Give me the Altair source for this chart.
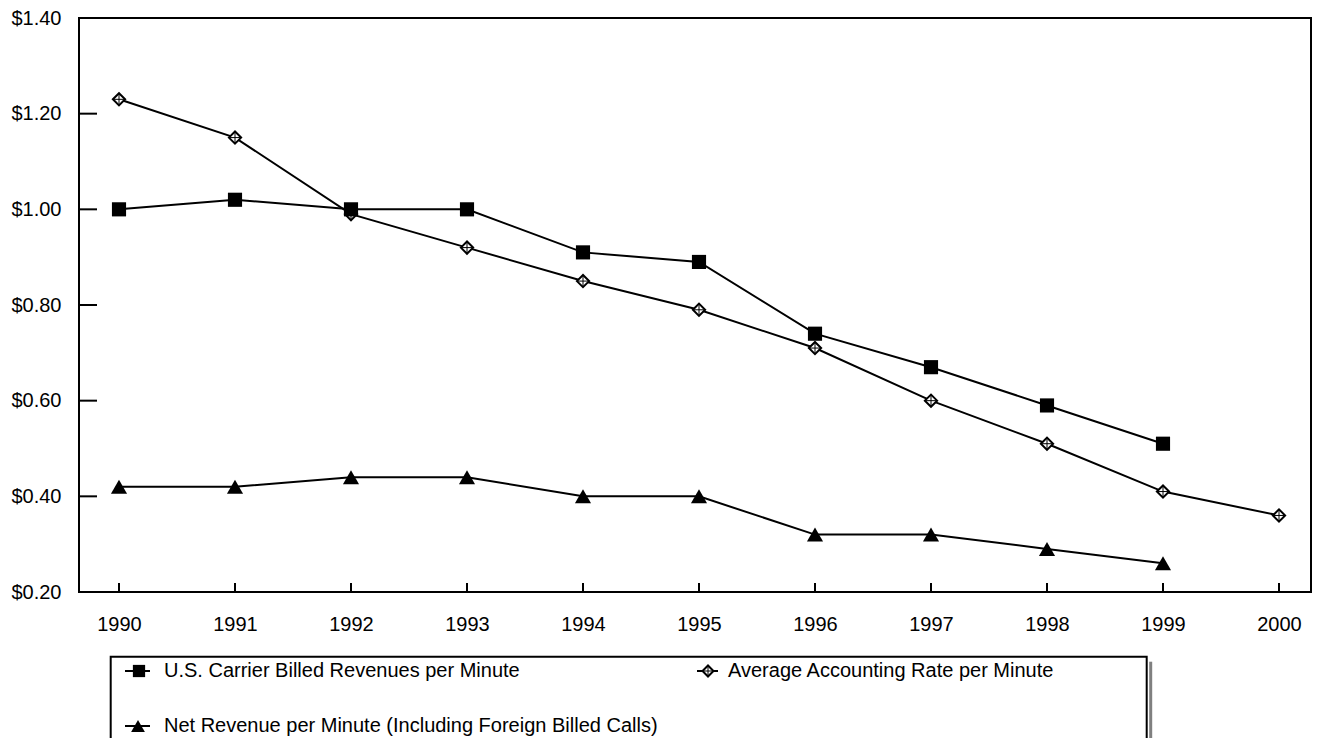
import altair as alt
import pandas as pd

years = [1990, 1991, 1992, 1993, 1994, 1995, 1996, 1997, 1998, 1999, 2000]
years_us = years[:10]
us_billed = [1.00, 1.02, 1.00, 1.00, 0.91, 0.89, 0.74, 0.67, 0.59, 0.51]
acct_rate = [1.23, 1.15, 0.99, 0.92, 0.85, 0.79, 0.71, 0.60, 0.51, 0.41, 0.36]
net_rev = [0.42, 0.42, 0.44, 0.44, 0.40, 0.40, 0.32, 0.32, 0.29, 0.26]
y_ticks = [0.2, 0.4, 0.6, 0.8, 1.0, 1.2, 1.4]
series_names = [
    "U.S. Carrier Billed Revenues per Minute",
    "Average Accounting Rate per Minute",
    "Net Revenue per Minute (Including Foreign Billed Calls)",
]

FONT = "Liberation Sans"
W, H = 1232, 574
TOP = 10

df_us = pd.DataFrame({"year": years_us, "value": us_billed})
df_acct = pd.DataFrame({"year": years, "value": acct_rate})
df_net = pd.DataFrame({"year": years_us, "value": net_rev})
df_yt = pd.DataFrame({"value": y_ticks})
df_xt = pd.DataFrame({"year": years})
one = pd.DataFrame({"k": [0]})

xenc = alt.X(
    "year:Q",
    scale=alt.Scale(domain=[1990 - 40 / 116, 2000 + 32 / 116], nice=False, zero=False),
    axis=alt.Axis(values=years, format="d", title=None, domain=False, ticks=False,
                  grid=False, labelPadding=22, labelFlush=False),
)
yenc = alt.Y(
    "value:Q",
    scale=alt.Scale(domain=[0.2, 1.4], nice=False, zero=False),
    axis=alt.Axis(values=y_ticks, format="$.2f", title=None, domain=False, ticks=False,
                  grid=False, labelPadding=18),
)

def line(df):
    return alt.Chart(df).mark_line(color="black", strokeWidth=2).encode(x=xenc, y=yenc)

l_us = line(df_us)
l_acct = line(df_acct)
l_net = line(df_net)

p_acct = alt.Chart(df_acct).mark_point(shape="diamond", size=150, filled=True, fill="white",
                                       stroke="black", strokeWidth=2, opacity=1).encode(x=xenc, y=yenc)
c_acct = alt.Chart(df_acct).mark_point(shape="M-1,0H1M0,-1V1", size=130, stroke="black",
                                       strokeWidth=1, opacity=1).encode(x=xenc, y=yenc)
p_us = alt.Chart(df_us).mark_point(shape="square", size=200, filled=True, color="black",
                                   opacity=1).encode(x=xenc, y=yenc)
p_net = alt.Chart(df_net).mark_point(shape="triangle-up", size=260, filled=True, color="black",
                                     opacity=1).encode(x=xenc, y=yenc)

yt = alt.Chart(df_yt).mark_rule(color="black", strokeWidth=2).encode(
    y=yenc, x=alt.value(0), x2=alt.value(18))
xt = alt.Chart(df_xt).mark_rule(color="black", strokeWidth=2).encode(
    x=xenc, y=alt.value(H - 9), y2=alt.value(H))

# legend (pixel offsets relative to plot origin at page (79, 18))
LX0, LX1, LY0, LY1 = 31.7, 1067.7, 638.7, 780
box = alt.Chart(one).mark_rect(fill="white", stroke="black", strokeWidth=2).encode(
    x=alt.value(LX0), x2=alt.value(LX1), y=alt.value(LY0), y2=alt.value(LY1))
shadow = alt.Chart(one).mark_rect(fill="#808080").encode(
    x=alt.value(LX1 + 2.5), x2=alt.value(LX1 + 5.5), y=alt.value(LY0 + 5), y2=alt.value(LY1))

R1, R2 = 653, 708

def leg_line(x0, x1, y):
    return alt.Chart(one).mark_rule(color="black", strokeWidth=2).encode(
        x=alt.value(x0), x2=alt.value(x1), y=alt.value(y))

def leg_text(x, y, t):
    return alt.Chart(one).mark_text(align="left", baseline="middle", font=FONT, fontSize=20,
                                    color="black").encode(
        x=alt.value(x), y=alt.value(y), text=alt.value(t))

leg = [
    box, shadow,
    leg_line(46, 71, R1),
    alt.Chart(one).mark_point(shape="square", size=150, filled=True, color="black", opacity=1).encode(
        x=alt.value(60), y=alt.value(R1)),
    leg_text(85, R1, series_names[0]),
    leg_line(618, 639, R1),
    alt.Chart(one).mark_point(shape="diamond", size=120, filled=True, fill="white", stroke="black",
                              strokeWidth=2, opacity=1).encode(x=alt.value(629), y=alt.value(R1)),
    alt.Chart(one).mark_point(shape="M-1,0H1M0,-1V1", size=100, stroke="black", strokeWidth=1,
                              opacity=1).encode(x=alt.value(629), y=alt.value(R1)),
    leg_text(649, R1, series_names[1]),
    leg_line(46, 71, R2),
    alt.Chart(one).mark_point(shape="triangle-up", size=190, filled=True, color="black", opacity=1).encode(
        x=alt.value(59), y=alt.value(R2)),
    leg_text(85, R2, series_names[2]),
]

chart = alt.layer(
    yt, xt, l_acct, l_us, l_net, p_acct, c_acct, p_us, p_net, *leg
).properties(
    width=W, height=H,
    autosize=alt.AutoSizeParams(type="none"),
    padding={"left": 71, "top": TOP, "right": 1, "bottom": 150},
).configure_view(
    stroke="black", strokeWidth=2
).configure_axis(
    labelFont=FONT, labelFontSize=20, labelColor="black"
)

chart.save("out.html", embed_options={"renderer": "svg", "actions": False})
